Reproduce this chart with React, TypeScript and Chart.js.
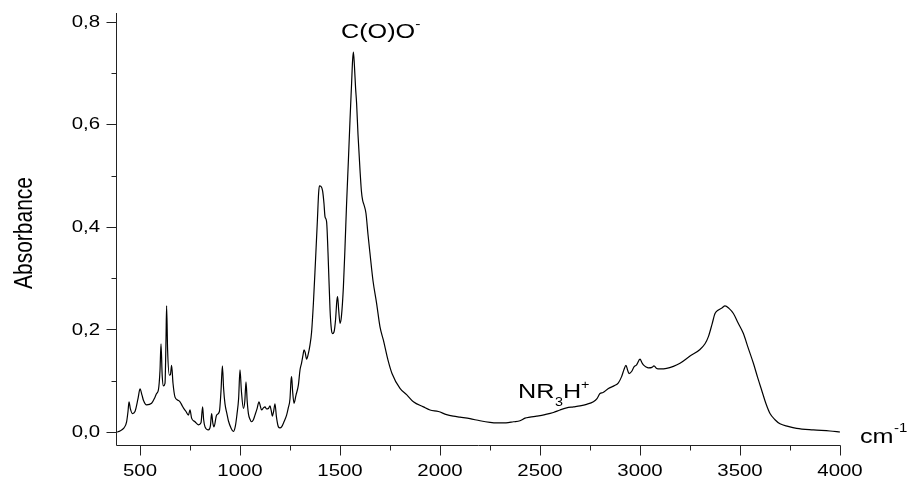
import React, { useEffect, useRef } from "react";
import { Chart, registerables } from "chart.js";

Chart.register(...registerables);

// Wavenumbers (cm^-1) and absorbance
const wavenumbers: number[] = [
  385, 400, 420, 433, 440, 445, 452, 462, 475, 490, 500, 510, 517, 533, 558, 575, 583, 592,
  600, 605, 611, 617, 625, 630, 633, 638, 647, 652, 658, 665, 675, 690, 700, 710, 717, 730,
  742, 750, 758, 775, 792, 805, 813, 818, 825, 842, 852, 858, 864, 870, 883, 897, 905, 912,
  918, 925, 935, 942, 955, 967, 977, 985, 993, 1000, 1007, 1017, 1024, 1030, 1036, 1042,
  1050, 1058, 1067, 1075, 1085, 1095, 1102, 1108, 1117, 1125, 1133, 1142, 1150, 1156, 1162,
  1168, 1175, 1182, 1192, 1200, 1208, 1220, 1233, 1242, 1250, 1255, 1258, 1263, 1270, 1280,
  1292, 1300, 1308, 1315, 1320, 1326, 1333, 1340, 1350, 1358, 1367, 1377, 1387, 1393, 1397,
  1405, 1413, 1420, 1425, 1433, 1440, 1450, 1457, 1463, 1470, 1478, 1484, 1488, 1493, 1500,
  1507, 1517, 1525, 1533, 1542, 1550, 1558, 1563, 1567, 1572, 1578, 1583, 1590, 1600, 1607,
  1613, 1620, 1630, 1640, 1650, 1665, 1683, 1700, 1717, 1740, 1760, 1800, 1833, 1867, 1917,
  1950, 1992, 2033, 2067, 2100, 2150, 2200, 2250, 2283, 2330, 2367, 2400, 2425, 2450, 2483,
  2525, 2567, 2600, 2633, 2667, 2700, 2733, 2767, 2785, 2800, 2815, 2842, 2870, 2892, 2908,
  2920, 2930, 2937, 2945, 2958, 2970, 2983, 3000, 3010, 3017, 3030, 3042, 3060, 3070, 3083,
  3100, 3133, 3167, 3200, 3250, 3300, 3325, 3342, 3360, 3375, 3392, 3410, 3425, 3445, 3467,
  3490, 3517, 3540, 3567, 3590, 3608, 3630, 3650, 3675, 3700, 3740, 3783, 3867, 3950, 4000,
];

const absorbance: number[] = [
  0.0, 0.002, 0.008, 0.02, 0.04, 0.059, 0.045, 0.036, 0.04, 0.065, 0.084, 0.072, 0.062, 0.053, 0.056, 0.068, 0.075, 0.082,
  0.12, 0.172, 0.11, 0.09, 0.095, 0.18, 0.246, 0.16, 0.111, 0.112, 0.13, 0.095, 0.068, 0.062, 0.059, 0.052, 0.047, 0.04,
  0.033, 0.043, 0.027, 0.02, 0.014, 0.018, 0.049, 0.025, 0.01, 0.004, 0.012, 0.036, 0.018, 0.01, 0.033, 0.04, 0.08, 0.129,
  0.085, 0.055, 0.035, 0.022, 0.008, 0.001, 0.012, 0.035, 0.065, 0.121, 0.08, 0.046, 0.06, 0.098, 0.06, 0.036,
  0.025, 0.02, 0.024, 0.033, 0.045, 0.059, 0.05, 0.043, 0.047, 0.049, 0.045, 0.046, 0.051, 0.042, 0.031,
  0.04, 0.055, 0.03, 0.01, 0.008, 0.01, 0.02, 0.033, 0.048, 0.065, 0.1, 0.108, 0.08, 0.056, 0.072,
  0.092, 0.121, 0.135, 0.15, 0.16, 0.155, 0.142, 0.15, 0.17, 0.195, 0.251, 0.33, 0.413, 0.465, 0.48,
  0.479, 0.47, 0.445, 0.42, 0.41, 0.35, 0.24, 0.2, 0.192, 0.195, 0.22, 0.255, 0.264, 0.24, 0.212,
  0.225, 0.283, 0.36, 0.446, 0.53, 0.608, 0.68, 0.725, 0.741, 0.715, 0.67, 0.641, 0.58, 0.511, 0.47,
  0.452, 0.443, 0.426, 0.385, 0.348, 0.295, 0.251, 0.205, 0.179, 0.14, 0.114, 0.085, 0.073, 0.059, 0.049,
  0.043, 0.04, 0.034, 0.031, 0.029, 0.026, 0.022, 0.019, 0.018, 0.018, 0.02, 0.022, 0.027, 0.029, 0.031,
  0.034, 0.038, 0.043, 0.047, 0.049, 0.051, 0.054, 0.059, 0.065, 0.075, 0.077, 0.085, 0.09, 0.096, 0.108,
  0.122, 0.13, 0.122, 0.114, 0.118, 0.127, 0.131, 0.142, 0.135, 0.131, 0.127, 0.125, 0.126, 0.129, 0.124,
  0.123, 0.124, 0.128, 0.134, 0.148, 0.161, 0.172, 0.186, 0.21, 0.231, 0.238, 0.242, 0.246, 0.241, 0.231,
  0.213, 0.192, 0.165, 0.134, 0.104, 0.082, 0.055, 0.036, 0.024, 0.016, 0.011, 0.007, 0.004, 0.002, 0.0,
];

const xMajorTicks: number[] = [500, 1000, 1500, 2000, 2500, 3000, 3500, 4000];
const xMinorTicks: number[] = [750, 1250, 1750, 2250, 2750, 3250, 3750];
const yMajorTicks: number[] = [0, 0.2, 0.4, 0.6, 0.8];
const yMinorTicks: number[] = [0.1, 0.3, 0.5, 0.7];
const yTickLabels: string[] = ["0,0", "0,2", "0,4", "0,6", "0,8"];

const FONT = '"Liberation Sans", Arial, sans-serif';
const SX = 1.2;

function drawText(
  ctx: CanvasRenderingContext2D,
  s: string,
  x: number,
  y: number,
  size: number,
  align: CanvasTextAlign = "left",
  baseline: CanvasTextBaseline = "alphabetic"
): number {
  ctx.save();
  ctx.translate(x, y);
  ctx.scale(SX, 1);
  ctx.font = `${size}px ${FONT}`;
  ctx.textAlign = align;
  ctx.textBaseline = baseline;
  ctx.fillStyle = "#000";
  ctx.fillText(s, 0, 0);
  const w = ctx.measureText(s).width * SX;
  ctx.restore();
  return w;
}

const axesPlugin = {
  id: "originAxes",
  afterDraw(chart: any) {
    const ctx: CanvasRenderingContext2D = chart.ctx;
    const xs = chart.scales.x;
    const ys = chart.scales.y;
    const ca = chart.chartArea;
    const axX = Math.round(ca.left) - 0.5;
    const axY = Math.round(ca.bottom) + 0.5;
    ctx.save();
    ctx.strokeStyle = "#222";
    ctx.lineWidth = 1;
    ctx.beginPath();
    ctx.moveTo(axX, Math.round(ca.top));
    ctx.lineTo(axX, axY);
    ctx.lineTo(Math.round(ca.right) + 0.5, axY);
    // y ticks
    yMajorTicks.forEach((v) => {
      const p = Math.round(ys.getPixelForValue(v)) + 0.5;
      ctx.moveTo(axX - 10, p);
      ctx.lineTo(axX, p);
    });
    yMinorTicks.forEach((v) => {
      const p = Math.round(ys.getPixelForValue(v)) + 0.5;
      ctx.moveTo(axX - 5, p);
      ctx.lineTo(axX, p);
    });
    xMajorTicks.forEach((v) => {
      const p = Math.round(xs.getPixelForValue(v)) + 0.5;
      ctx.moveTo(p, axY);
      ctx.lineTo(p, axY + 10);
    });
    xMinorTicks.forEach((v) => {
      const p = Math.round(xs.getPixelForValue(v)) + 0.5;
      ctx.moveTo(p, axY);
      ctx.lineTo(p, axY + 5);
    });
    ctx.stroke();
    ctx.restore();

    // tick labels
    yMajorTicks.forEach((v, i) => {
      drawText(ctx, yTickLabels[i], 100, ys.getPixelForValue(v) + 0.5, 17, "right", "middle");
    });
    xMajorTicks.forEach((v) => {
      drawText(ctx, String(v), xs.getPixelForValue(v), 476, 17, "center", "alphabetic");
    });

    // axis titles
    ctx.save();
    ctx.translate(31.5, 233);
    ctx.scale(SX, 1);
    ctx.rotate(-Math.PI / 2);
    ctx.font = `21px ${FONT}`;
    ctx.textAlign = "center";
    ctx.textBaseline = "alphabetic";
    ctx.fillStyle = "#000";
    ctx.fillText("Absorbance", 0, 0);
    ctx.restore();

    let w = drawText(ctx, "cm", 860, 443, 21);
    drawText(ctx, "-1", 860 + w + 0.5, 432, 12.5);

    // annotations
    w = drawText(ctx, "C(O)O", 341, 38, 21);
    drawText(ctx, "-", 341 + w, 28, 13);

    let x0 = 518;
    w = drawText(ctx, "NR", x0, 398, 21);
    x0 += w + 0.5;
    const w3 = drawText(ctx, "3", x0, 406, 12);
    x0 += w3;
    w = drawText(ctx, "H", x0, 398, 21);
    x0 += w;
    drawText(ctx, "+", x0, 389, 12);
  },
};

export default function App() {
  const canvasRef = useRef<HTMLCanvasElement | null>(null);

  useEffect(() => {
    const canvas = canvasRef.current;
    if (!canvas) return;
    const points = wavenumbers.map((x, i) => ({ x, y: absorbance[i] }));
    const chart = new Chart(canvas, {
      type: "line",
      data: {
        datasets: [
          {
            data: points,
            borderColor: "#000",
            borderWidth: 1.2,
            pointRadius: 0,
            fill: false,
            cubicInterpolationMode: "monotone",
          },
        ],
      },
      options: {
        animation: false,
        responsive: false,
        maintainAspectRatio: false,
        devicePixelRatio: 1,
        events: [],
        layout: { padding: { left: 117, top: 13, right: 67, bottom: 32 } },
        scales: {
          x: { type: "linear", min: 385, max: 4000, display: false },
          y: { type: "linear", min: -0.0253, max: 0.817, display: false },
        },
        plugins: {
          legend: { display: false },
          tooltip: { enabled: false },
          title: { display: false },
        },
      },
      plugins: [axesPlugin],
    } as any);
    return () => chart.destroy();
  }, []);

  return (
    <div style={{ position: "absolute", left: 0, top: 0, width: 907, height: 477, background: "#fff" }}>
      <canvas ref={canvasRef} width={907} height={477} style={{ display: "block" }} />
    </div>
  );
}
